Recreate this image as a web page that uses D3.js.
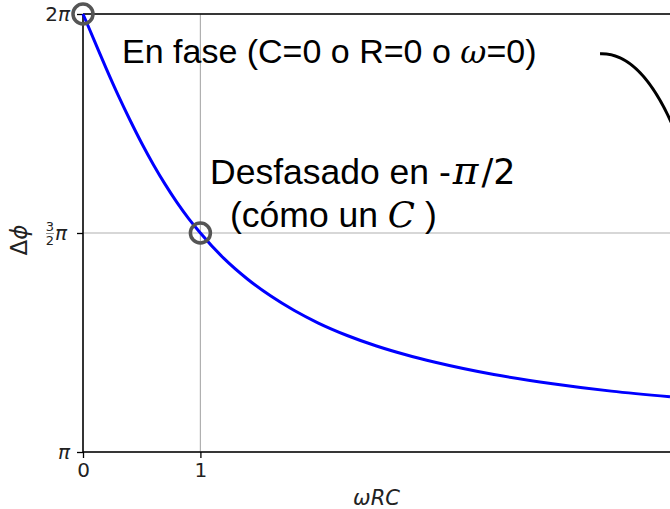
<!DOCTYPE html>
<html>
<head>
  <title>Desfase RC</title>
  <script src="https://cdn.jsdelivr.net/npm/d3@7"></script>
  <style>
    body { margin: 0; background: #fff; }
    .tick text { font-family: "DejaVu Sans"; font-size: 20px; }
    .note { font-family: "Liberation Sans", Arial; font-size: 34px; fill: #000; }
    .math { font-family: "DejaVu Serif"; font-style: italic; }
  </style>
</head>
<body>
<svg id="chart" width="670" height="509"></svg>
<script>
// omega*R*C values and phase difference (in units of pi)
var wrc = [0, 0.1, 0.2, 0.3, 0.4, 0.5, 0.6, 0.7, 0.8, 0.9, 1.0, 1.2, 1.4, 1.6, 1.8, 2.0, 2.25, 2.5, 2.75, 3.0, 3.5, 4.0, 4.5, 5.0];
var dphi = [2.000, 1.937, 1.874, 1.814, 1.758, 1.705, 1.656, 1.611, 1.570, 1.533, 1.500, 1.442, 1.395, 1.356, 1.323, 1.295, 1.266, 1.242, 1.222, 1.205, 1.177, 1.156, 1.139, 1.126];

var xTicks = [0, 1];
var xTickLabels = ["0", "1"];
var yTicks = [1, 1.5, 2];
var yTickLabels = ["π", "", "2π"];

// marked points (circles)
var markX = [0, 1];
var markY = [2, 1.5];

// arrow of the "En fase" note, in data units
var arrowPts = [[4.404, 1.909], [4.744, 1.913], [5.02, 1.747]];

var svg = d3.select("#chart");
var x = d3.scaleLinear().domain([0, 5]).range([83, 670]);
var y = d3.scaleLinear().domain([1, 2]).range([452, 14]);

// grid
svg.append("g")
  .selectAll("line")
  .data(xTicks)
  .enter().append("line")
  .attr("x1", d => x(d)).attr("x2", d => x(d))
  .attr("y1", y(1)).attr("y2", y(2))
  .attr("stroke", "#b0b0b0").attr("stroke-width", 1.2);
svg.append("g")
  .selectAll("line")
  .data(yTicks)
  .enter().append("line")
  .attr("x1", x(0)).attr("x2", 670)
  .attr("y1", d => y(d)).attr("y2", d => y(d))
  .attr("stroke", "#b0b0b0").attr("stroke-width", 1.2);

// axes
var xAxis = d3.axisBottom(x).tickValues(xTicks).tickFormat((d, i) => xTickLabels[i]).tickSize(6).tickPadding(5);
var yAxis = d3.axisLeft(y).tickValues(yTicks).tickFormat((d, i) => yTickLabels[i]).tickSize(6).tickPadding(7);

var gx = svg.append("g").attr("transform", "translate(0," + y(1) + ")").call(xAxis);
var gy = svg.append("g").attr("transform", "translate(" + x(0) + ",0)").call(yAxis);
gx.select(".domain").remove();
gy.select(".domain").remove();
svg.selectAll(".tick line").attr("stroke", "#000").attr("stroke-width", 1.3);
svg.selectAll(".tick text").attr("fill", "#222");
// italic pi in the y tick labels
gy.selectAll(".tick text").each(function(d, i) {
  var lab = yTickLabels[i];
  var t = d3.select(this).text(null);
  if (lab.length > 1) t.append("tspan").text(lab.slice(0, -1));
  if (lab.length > 0) t.append("tspan").attr("font-style", "italic").text("π");
});

// 3/2 pi label as a small stacked fraction
var yt = y(1.5);
var fr = svg.append("g").attr("font-family", "DejaVu Sans").attr("fill", "#222");
fr.append("text").attr("x", 50).attr("y", yt - 2).attr("text-anchor", "middle").attr("font-size", 13).text("3");
fr.append("text").attr("x", 50).attr("y", yt + 12).attr("text-anchor", "middle").attr("font-size", 13).text("2");
fr.append("line").attr("x1", 46).attr("x2", 54).attr("y1", yt + 0.5).attr("y2", yt + 0.5).attr("stroke", "#666").attr("stroke-width", 0.7);
fr.append("text").attr("x", 55).attr("y", yt + 7).attr("font-size", 20).attr("font-style", "italic").text("π");

// spines
svg.append("line").attr("x1", x(0)).attr("x2", 670).attr("y1", y(2)).attr("y2", y(2)).attr("stroke", "#000").attr("stroke-width", 1.5);
svg.append("line").attr("x1", x(0)).attr("x2", 670).attr("y1", y(1)).attr("y2", y(1)).attr("stroke", "#000").attr("stroke-width", 1.5);
svg.append("line").attr("x1", x(0)).attr("x2", x(0)).attr("y1", y(2)).attr("y2", y(1)).attr("stroke", "#000").attr("stroke-width", 1.5);

// curve
var pts = wrc.map((d, i) => [d, dphi[i]]);
var line = d3.line().x(d => x(d[0])).y(d => y(d[1])).curve(d3.curveMonotoneX);
svg.append("path")
  .datum(pts)
  .attr("d", line)
  .attr("fill", "none")
  .attr("stroke", "#0000ff")
  .attr("stroke-width", 3);

// circles
svg.append("g")
  .selectAll("circle")
  .data(markX)
  .enter().append("circle")
  .attr("cx", d => x(d))
  .attr("cy", (d, i) => y(markY[i]))
  .attr("r", 10)
  .attr("fill", "none")
  .attr("stroke", "#555")
  .attr("stroke-width", 3.5);

// axis labels
svg.append("text")
  .attr("x", x(2.5)).attr("y", 505)
  .attr("text-anchor", "middle")
  .attr("font-family", "DejaVu Sans").attr("font-style", "italic").attr("font-size", 21)
  .attr("fill", "#222")
  .text("ωRC");
svg.append("text")
  .attr("transform", "translate(27,240) rotate(-90)")
  .attr("text-anchor", "middle")
  .attr("font-family", "DejaVu Sans").attr("font-size", 23)
  .attr("fill", "#222")
  .html('Δ<tspan font-style="italic">ϕ</tspan>');

// notes
var t1 = svg.append("text").attr("class", "note").attr("x", 122).attr("y", 63);
t1.append("tspan").text("En fase (C=0 o R=0 o ");
t1.append("tspan").attr("class", "math").style("font-size", "32px").text("ω");
t1.append("tspan").text("=0)");

var t2 = svg.append("text").attr("class", "note").style("font-size", "35.5px").attr("x", 210).attr("y", 184);
t2.append("tspan").text("Desfasado en -");
t2.append("tspan").attr("class", "math").style("font-size", "39px").attr("dx", 2).text("π");
t2.append("tspan").attr("font-family", "DejaVu Sans").style("font-size", "35px").attr("dx", 3).text("/2");

var t3 = svg.append("text").attr("class", "note").style("font-size", "35.5px").attr("x", 230).attr("y", 227);
t3.append("tspan").text("(cómo un ");
t3.append("tspan").attr("class", "math").text("C");
t3.append("tspan").text(" )");

// arrow
var ap = arrowPts.map(d => [x(d[0]), y(d[1])]);
svg.append("path")
  .attr("d", "M" + ap[0] + "Q" + ap[1] + " " + ap[2])
  .attr("fill", "none")
  .attr("stroke", "#000")
  .attr("stroke-width", 3);
</script>
</body>
</html>
